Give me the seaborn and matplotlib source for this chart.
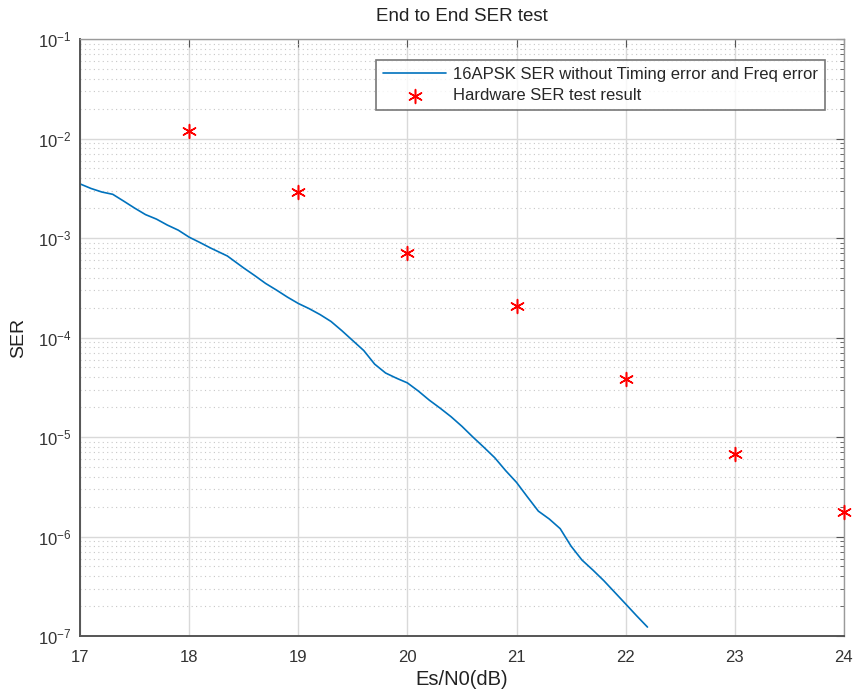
import numpy as np
import pandas as pd
import seaborn as sns
import matplotlib.pyplot as plt
from matplotlib.ticker import LogLocator

# simulated curve
esn0_sim = [17.0, 17.1, 17.2, 17.3, 17.4, 17.5, 17.6, 17.7, 17.8, 17.9, 18.0, 18.1,
            18.2, 18.35, 18.5, 18.6, 18.7, 18.8, 18.9, 19.0, 19.1, 19.2, 19.3, 19.4,
            19.5, 19.6, 19.7, 19.8, 19.9, 20.0, 20.1, 20.2, 20.3, 20.4, 20.5, 20.6,
            20.7, 20.8, 20.9, 21.0, 21.1, 21.2, 21.3, 21.4, 21.5, 21.6, 21.7, 21.8,
            21.9, 22.0, 22.1, 22.2]
ser_sim = [3.5e-3, 3.15e-3, 2.9e-3, 2.75e-3, 2.35e-3, 2.0e-3, 1.72e-3, 1.55e-3,
           1.35e-3, 1.2e-3, 1.02e-3, 9.0e-4, 7.9e-4, 6.6e-4, 5.0e-4, 4.2e-4, 3.5e-4,
           3.0e-4, 2.55e-4, 2.2e-4, 1.95e-4, 1.7e-4, 1.45e-4, 1.17e-4, 9.3e-5,
           7.4e-5, 5.4e-5, 4.4e-5, 3.9e-5, 3.5e-5, 2.9e-5, 2.35e-5, 1.95e-5, 1.6e-5,
           1.28e-5, 1.0e-5, 7.9e-6, 6.2e-6, 4.6e-6, 3.5e-6, 2.5e-6, 1.8e-6, 1.5e-6,
           1.2e-6, 8.0e-7, 5.8e-7, 4.6e-7, 3.6e-7, 2.75e-7, 2.1e-7, 1.6e-7, 1.23e-7]

# hardware measurements
esn0_hw = [18, 19, 20, 21, 22, 23, 24]
ser_hw = [1.19e-2, 2.9e-3, 7.1e-4, 2.07e-4, 3.8e-5, 6.7e-6, 1.76e-6]

sim = pd.DataFrame({'EsN0': esn0_sim, 'SER': ser_sim})
hw = pd.DataFrame({'EsN0': esn0_hw, 'SER': ser_hw})

sns.set_style('white')
plt.rcParams['font.family'] = ['Liberation Sans', 'DejaVu Sans']

fig = plt.figure(figsize=(8.55, 6.97), dpi=100)
ax = fig.add_axes([0.0936, 0.0875, 0.8934, 0.8565])

sns.lineplot(data=sim, x='EsN0', y='SER', ax=ax, color='#0072BD', lw=1.2,
             sort=False, estimator=None,
             label='16APSK SER without Timing error and Freq error')
sns.scatterplot(data=hw, x='EsN0', y='SER', ax=ax, marker=(6, 2, 0), s=100,
                color='red', linewidth=1.1, label='Hardware SER test result',
                zorder=5, clip_on=False)

ax.set_yscale('log')
ax.set_xlim(17, 24)
ax.set_ylim(1e-7, 1e-1)
ax.set_xticks(range(17, 25))
ax.yaxis.set_major_locator(LogLocator(base=10, numticks=10))
ax.yaxis.set_minor_locator(LogLocator(base=10, subs=np.arange(2, 10), numticks=20))
ax.xaxis.get_offset_text().set_visible(False)
ax.yaxis.get_offset_text().set_visible(False)

ax.grid(which='major', color='#d9d9d9', lw=1.0, ls='-')
ax.grid(which='minor', axis='y', color='#c8c8c8', lw=0.8, ls=(0, (1, 3)))
ax.set_axisbelow(True)

for side in ['left', 'bottom']:
    ax.spines[side].set_color('#555555')
    ax.spines[side].set_linewidth(1.4)
for side in ['top', 'right']:
    ax.spines[side].set_color('#9a9a9a')
    ax.spines[side].set_linewidth(1.0)

ax.tick_params(which='both', direction='in', top=True, right=True,
               colors='#555555', labelcolor='#333333')
ax.tick_params(axis='x', labelsize=12, pad=10)
ax.tick_params(axis='y', labelsize=12, pad=6)
ax.tick_params(which='major', length=6)
ax.tick_params(which='minor', length=3)

ax.set_xlabel('Es/N0(dB)', fontsize=14.5, color='#222222', labelpad=4)
ax.set_ylabel('SER', fontsize=14, color='#222222', labelpad=8)
ax.set_title('End to End SER test', fontsize=13.5, color='#222222', pad=13)

leg = ax.legend(loc='upper right', bbox_to_anchor=(0.975, 0.965), borderaxespad=0,
                fontsize=12, frameon=True, fancybox=False, handlelength=3.8,
                handletextpad=0.4, borderpad=0.4, labelspacing=0.4)
leg.get_frame().set_edgecolor('#555555')
leg.get_frame().set_linewidth(1.2)

fig.savefig('out.png', dpi=100)
plt.close()
